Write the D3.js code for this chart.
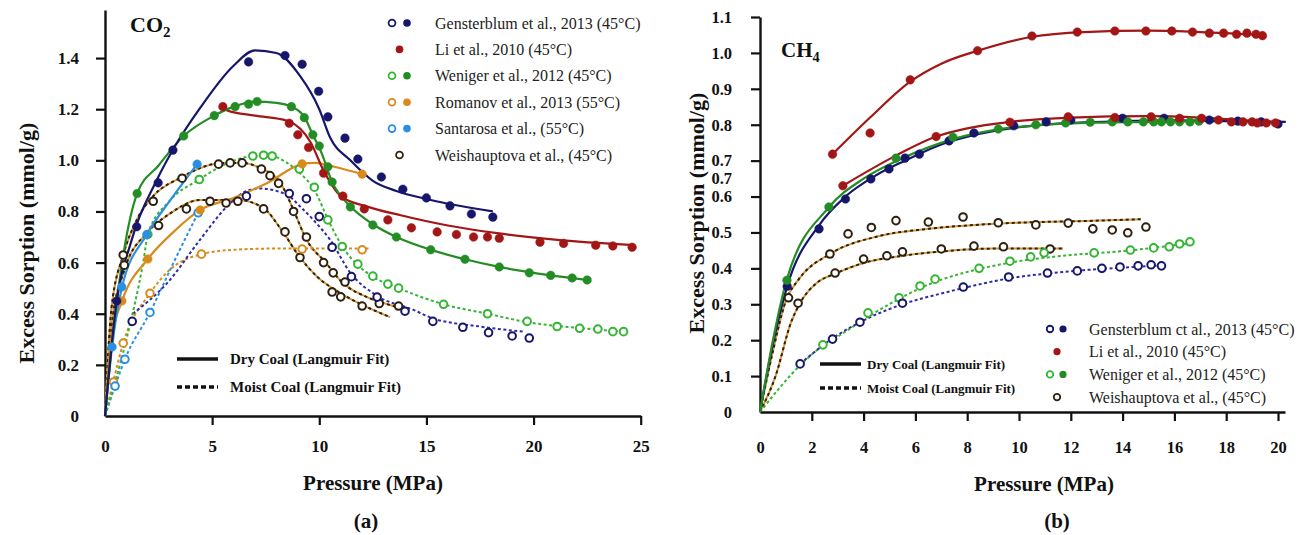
<!DOCTYPE html>
<html>
<head>
<meta charset="utf-8">
<script src="https://cdnjs.cloudflare.com/ajax/libs/d3/7.8.5/d3.min.js"></script>
<style>
  body { margin: 0; background: #fff; }
  svg text { font-family: "Liberation Serif", "Times New Roman", serif; }
</style>
</head>
<body>
<svg id="fig" width="1306" height="535"></svg>
<script>
///////////////////////////////////////////////////
// Data : panel (a) CO2   [pressure MPa, sorption mmol/g]
///////////////////////////////////////////////////

let co2XTicks = [0, 5, 10, 15, 20, 25];
let co2YTicks = [0, 0.2, 0.4, 0.6, 0.8, 1.0, 1.2, 1.4];

let co2GenDryPts = [[0.55,0.45],[1.48,0.74],[2.48,0.912],[3.17,1.04],[6.7,1.385],[8.4,1.41],[9.2,1.376],[9.97,1.27],[10.4,1.17],[11.2,1.087],[11.8,1.005],[12.9,0.935],[13.9,0.887],[15.0,0.853],[16.1,0.822],[17.1,0.79],[18.1,0.778]];
let co2GenDryFit = [[0,0],[0.5,0.42],[1.25,0.69],[2.4,0.92],[3.3,1.06],[4.4,1.2],[6,1.37],[7,1.43],[8,1.42],[9.1,1.33],[10,1.2],[10.5,1.09],[11.45,1.0],[12.5,0.92],[13.6,0.88],[15.2,0.845],[18.1,0.80]];
let co2GenMoistPts = [[1.27,0.37],[6.6,0.86],[8.6,0.87],[9.4,0.85],[10.0,0.78],[10.6,0.66],[11.5,0.545],[12.7,0.465],[14.0,0.41],[15.3,0.37],[16.7,0.347],[17.9,0.326],[19.0,0.313],[19.8,0.305]];
let co2GenMoistFit = [[1.3,0.4],[2.9,0.52],[4.44,0.69],[5.7,0.82],[6.6,0.88],[7.2,0.89],[8.5,0.865],[9.1,0.82],[9.8,0.76],[10.5,0.69],[11.45,0.56],[12.7,0.47],[14.4,0.415],[15.2,0.385],[17.5,0.35],[19.5,0.33]];

let co2LiDryPts = [[5.5,1.21],[8.6,1.145],[9.0,1.10],[9.5,1.05],[10.2,0.95],[11.1,0.86],[12.1,0.81],[13.2,0.767],[14.3,0.736],[15.5,0.72],[16.4,0.71],[17.2,0.70],[17.85,0.70],[18.4,0.695],[20.3,0.68],[21.4,0.675],[22.9,0.668],[23.7,0.665],[24.6,0.66]];
let co2LiDryFit = [[5.5,1.21],[5.7,1.195],[7,1.175],[8.5,1.155],[9.6,1.07],[10.2,0.96],[11,0.86],[12.2,0.82],[13.8,0.785],[16,0.745],[18.3,0.715],[21,0.69],[24.7,0.668]];

let co2WenDryPts = [[1.5,0.87],[3.67,1.095],[5.1,1.175],[6.07,1.21],[6.7,1.22],[7.1,1.23],[8.7,1.21],[9.3,1.167],[9.7,1.1],[10.0,1.056],[10.4,0.975],[10.6,0.915],[11.45,0.818],[12.5,0.747],[13.6,0.7],[15.2,0.65],[16.8,0.613],[18.4,0.583],[19.8,0.56],[20.8,0.55],[21.8,0.54],[22.5,0.532]];
let co2WenDryFit = [[0,0],[0.4,0.34],[1.5,0.87],[2.5,0.98],[3.67,1.095],[5.1,1.175],[6,1.21],[7,1.23],[8,1.225],[8.7,1.21],[9.3,1.17],[9.7,1.1],[10.1,1.03],[10.6,0.915],[11.45,0.82],[12.5,0.75],[13.6,0.7],[15.2,0.65],[16.8,0.613],[18.4,0.583],[20,0.56],[22.5,0.532]];
let co2WenMoistPts = [[2.0,0.71],[4.4,0.925],[6.9,1.017],[7.4,1.02],[7.8,1.017],[9.07,0.966],[9.77,0.895],[10.4,0.767],[11.07,0.663],[11.8,0.594],[12.5,0.547],[13.2,0.516],[13.7,0.5],[15.8,0.437],[17.85,0.40],[19.7,0.37],[21.1,0.35],[22.15,0.343],[23.0,0.34],[23.7,0.33],[24.2,0.33]];
let co2WenMoistFit = [[0,0],[1.0,0.3],[1.8,0.61],[2.0,0.71],[3,0.84],[4.4,0.925],[5.5,0.98],[6.9,1.015],[7.8,1.015],[8.5,0.99],[9.1,0.95],[9.8,0.88],[10.4,0.77],[11.1,0.66],[11.8,0.59],[12.5,0.545],[13.7,0.5],[15.8,0.437],[17.85,0.4],[19.7,0.367],[22,0.345],[24.2,0.33]];

let co2RomDryPts = [[0.79,0.45],[2.0,0.614],[4.44,0.806],[9.2,0.986],[12.0,0.946]];
let co2RomDryFit = [[0,0],[0.3,0.3],[0.8,0.45],[2.0,0.614],[3.2,0.72],[4.44,0.806],[6,0.853],[7.55,0.91],[9.2,0.985],[9.8,0.99],[10.7,0.975],[12,0.946]];
let co2RomMoistPts = [[0.4,0.133],[0.85,0.285],[2.1,0.48],[4.5,0.633],[9.2,0.653],[12.0,0.65]];
let co2RomMoistFit = [[0,0],[0.4,0.14],[0.85,0.285],[2.1,0.48],[3,0.57],[4.5,0.633],[6,0.65],[8,0.655],[10,0.655],[12.3,0.655]];

let co2SanDryPts = [[0.33,0.27],[0.78,0.505],[1.95,0.71],[4.3,0.985]];
let co2SanDryFit = [[0,0],[0.33,0.27],[0.78,0.5],[1.95,0.71],[3.1,0.85],[4.3,0.985]];
let co2SanMoistPts = [[0.47,0.117],[0.93,0.222],[2.1,0.405],[4.35,0.795]];
let co2SanMoistFit = [[0,0],[0.47,0.117],[0.93,0.222],[2.1,0.405],[3.2,0.6],[4.35,0.795]];

let co2Wei1Pts = [[0.85,0.63],[2.25,0.84],[3.6,0.93],[5.3,0.985],[5.84,0.99],[6.4,0.99],[7.3,0.966],[7.7,0.94],[8.1,0.91],[8.8,0.8],[9.4,0.7],[10.2,0.6],[10.65,0.56],[11.2,0.524],[12.8,0.44],[13.7,0.43]];
let co2Wei1Fit = [[0,0],[0.3,0.42],[0.85,0.63],[1.5,0.77],[2.25,0.86],[3.6,0.935],[4.44,0.97],[5.5,0.99],[6.4,0.99],[7.24,0.97],[8.2,0.91],[8.8,0.805],[9.4,0.69],[10.3,0.6],[11.1,0.52],[12.2,0.466],[13.3,0.434],[13.9,0.42]];
let co2Wei2Pts = [[0.9,0.59],[2.5,0.745],[3.8,0.81],[4.9,0.84],[5.65,0.833],[6.2,0.84],[7.4,0.81],[8.4,0.72],[9.1,0.62],[10.6,0.485],[11.0,0.466],[12.0,0.43]];
let co2Wei2Fit = [[0,0],[0.3,0.35],[0.9,0.57],[2,0.72],[3,0.79],[4.44,0.845],[6.2,0.845],[7.4,0.813],[8.3,0.72],[9.1,0.62],[9.9,0.545],[11,0.48],[12.2,0.427],[13.3,0.387]];

let co2Legend = [
  "Gensterblum et al., 2013 (45°C)",
  "Li et al., 2010 (45°C)",
  "Weniger et al., 2012 (45°C)",
  "Romanov et al., 2013 (55°C)",
  "Santarosa et al., (55°C)",
  "Weishauptova et al., (45°C)"
];

///////////////////////////////////////////////////
// Data : panel (b) CH4
///////////////////////////////////////////////////

let ch4XTicks = [0, 2, 4, 6, 8, 10, 12, 14, 16, 18, 20];
let ch4YTicks = [0, 0.1, 0.2, 0.3, 0.4, 0.5, 0.6, 0.7, 0.8, 0.9, 1.0, 1.1];
// stray extra "0.7" label printed between 0.6 and 0.7 in the original
let ch4ExtraYLabels = [[0.65, "0.7"]];

let ch4Li1Pts = [[2.8,0.718],[4.25,0.777],[5.8,0.925],[8.4,1.006],[10.5,1.047],[12.25,1.058],[13.7,1.061],[14.9,1.061],[15.9,1.061],[16.7,1.058],[17.35,1.055],[17.9,1.055],[18.4,1.052],[18.8,1.055],[19.15,1.052],[19.4,1.048]];
let ch4Li1Fit = [[2.8,0.718],[4.25,0.82],[5.8,0.92],[7,0.97],[8.4,1.006],[10.5,1.045],[12.5,1.058],[15,1.062],[17,1.058],[19.4,1.05]];
let ch4Li2Pts = [[3.2,0.63],[6.8,0.767],[9.65,0.807],[11.9,0.822],[13.7,0.82],[15.1,0.822],[16.2,0.818],[17.05,0.818],[17.7,0.813],[18.2,0.808],[18.65,0.808],[19.0,0.808],[19.2,0.805],[19.55,0.805],[19.9,0.805]];
let ch4Li2Fit = [[3.2,0.63],[5.3,0.716],[6.8,0.767],[8,0.79],[9.65,0.808],[12,0.82],[15,0.824],[17,0.82],[19.9,0.806]];

let ch4GenDryPts = [[1.05,0.35],[2.28,0.51],[3.3,0.593],[4.28,0.649],[4.98,0.677],[5.6,0.707],[6.15,0.718],[7.3,0.755],[8.26,0.777],[9.8,0.797],[11.05,0.808],[12.0,0.813],[14.0,0.818],[15.6,0.818],[17.35,0.813],[18.45,0.81],[19.35,0.808],[20.0,0.802]];
let ch4GenDryFit = [[0,0],[0.5,0.19],[1.05,0.35],[2.28,0.52],[3.3,0.6],[4.5,0.66],[5.6,0.7],[7,0.745],[8.5,0.775],[10,0.793],[12,0.805],[14,0.81],[16,0.812],[18,0.81],[20.3,0.808]];
let ch4GenMoistPts = [[1.55,0.134],[2.8,0.203],[3.86,0.25],[5.5,0.303],[7.85,0.348],[9.6,0.376],[11.1,0.387],[12.25,0.393],[13.2,0.4],[13.9,0.404],[14.6,0.407],[15.1,0.41],[15.5,0.407]];
let ch4GenMoistFit = [[1.55,0.134],[2.8,0.205],[3.86,0.25],[5.5,0.3],[7,0.33],[7.85,0.345],[9.6,0.372],[11,0.385],[12.5,0.395],[14,0.402],[15.5,0.408]];

let ch4WenDryPts = [[1.04,0.367],[2.66,0.571],[5.25,0.707],[7.45,0.765],[9.2,0.788],[10.65,0.8],[11.8,0.805],[12.75,0.807],[13.6,0.808],[14.2,0.808],[14.8,0.808],[15.2,0.808],[15.5,0.808],[15.85,0.808],[16.2,0.808],[16.6,0.808],[16.95,0.81]];
let ch4WenDryFit = [[0,0],[0.5,0.2],[1.04,0.37],[2.66,0.57],[4,0.65],[5.3,0.7],[7.45,0.76],[9.2,0.787],[11,0.8],[13,0.806],[15,0.808],[17,0.81]];
let ch4WenMoistPts = [[2.43,0.187],[4.17,0.276],[5.37,0.318],[6.18,0.351],[6.76,0.37],[8.46,0.4],[9.65,0.42],[10.45,0.432],[10.97,0.443],[12.9,0.443],[14.3,0.451],[15.2,0.457],[15.8,0.46],[16.2,0.468],[16.6,0.474]];
let ch4WenMoistFit = [[0,0],[1.55,0.13],[2.43,0.185],[3,0.21],[4.17,0.265],[5.37,0.315],[6.5,0.355],[8,0.39],[10,0.42],[12,0.437],[14,0.448],[16.6,0.47]];

let ch4Wei1Pts = [[1.1,0.318],[2.7,0.44],[3.4,0.496],[4.3,0.514],[5.25,0.533],[6.5,0.529],[7.84,0.543],[9.2,0.527],[10.65,0.521],[11.9,0.526],[12.85,0.51],[13.6,0.507],[14.2,0.499],[14.9,0.515]];
let ch4Wei1Fit = [[0,0],[0.5,0.17],[1,0.31],[1.5,0.37],[2.7,0.44],[4.6,0.49],[6.5,0.51],[9.3,0.525],[13.1,0.533],[14.7,0.537]];
let ch4Wei2Pts = [[1.47,0.303],[2.9,0.387],[4.0,0.426],[4.9,0.435],[5.5,0.446],[7.0,0.454],[8.26,0.462],[9.4,0.46],[11.2,0.454]];
let ch4Wei2Fit = [[0,0],[0.6,0.1],[1.2,0.25],[1.6,0.31],[2.2,0.36],[2.9,0.385],[4,0.415],[5.5,0.435],[7,0.447],[9,0.455],[11.7,0.455]];

let ch4Legend = [
  "Gensterblum ct al., 2013 (45°C)",
  "Li et al., 2010 (45°C)",
  "Weniger et al., 2012 (45°C)",
  "Weishauptova et al., (45°C)"
];

///////////////////////////////////////////////////
// Colours
///////////////////////////////////////////////////

let NAVY = "#16166b", NAVY_D = "#2f2ba3",
    RED = "#a31616",
    GREEN = "#248c24", GREEN_O = "#35b535",
    ORANGE = "#d88a1c",
    BLUE = "#2b8fe0",
    BROWN = "#2e2010", BROWN_L = "#d49a3c";

///////////////////////////////////////////////////
// Series tables
///////////////////////////////////////////////////

let co2Series = [
  {fit: co2Wei2Fit, pts: co2Wei2Pts, color: BROWN, open: true, wei: true},
  {fit: co2Wei1Fit, pts: co2Wei1Pts, color: BROWN, open: true, wei: true},
  {fit: co2RomMoistFit, pts: co2RomMoistPts, color: ORANGE, open: true, dash: true},
  {fit: co2SanMoistFit, pts: co2SanMoistPts, color: BLUE, open: true, dash: true},
  {fit: co2GenMoistFit, pts: co2GenMoistPts, color: NAVY, line: NAVY_D, open: true, dash: true},
  {fit: co2WenMoistFit, pts: co2WenMoistPts, color: GREEN_O, open: true, dash: true},
  {fit: co2RomDryFit, pts: co2RomDryPts, color: ORANGE},
  {fit: co2SanDryFit, pts: co2SanDryPts, color: BLUE},
  {fit: co2LiDryFit, pts: co2LiDryPts, color: RED},
  {fit: co2WenDryFit, pts: co2WenDryPts, color: GREEN},
  {fit: co2GenDryFit, pts: co2GenDryPts, color: NAVY}
];

let ch4Series = [
  {fit: ch4Wei2Fit, pts: ch4Wei2Pts, color: BROWN, open: true, wei: true},
  {fit: ch4Wei1Fit, pts: ch4Wei1Pts, color: BROWN, open: true, wei: true},
  {fit: ch4WenMoistFit, pts: ch4WenMoistPts, color: GREEN_O, open: true, dash: true},
  {fit: ch4GenMoistFit, pts: ch4GenMoistPts, color: NAVY, line: NAVY_D, open: true, dash: true},
  {fit: ch4GenDryFit, pts: ch4GenDryPts, color: NAVY},
  {fit: ch4WenDryFit, pts: ch4WenDryPts, color: GREEN},
  {fit: ch4Li2Fit, pts: ch4Li2Pts, color: RED},
  {fit: ch4Li1Fit, pts: ch4Li1Pts, color: RED}
];

// legend markers per row : [open colour, filled colour]
let co2LegendMarks = [[NAVY, NAVY], [null, RED], [GREEN_O, GREEN], [ORANGE, ORANGE], [BLUE, BLUE], [BROWN, null]];
let ch4LegendMarks = [[NAVY, NAVY], [null, RED], [GREEN_O, GREEN], [BROWN, null]];

let svg = d3.select("#fig");

///////////////////////////////////////////////////
// Panels
///////////////////////////////////////////////////

drawPanel({
  xDomain: [0, 25], xRange: [105, 640.7],
  yDomain: [0, 1.588], yRange: [416, 10],
  xTicks: co2XTicks, yTicks: co2YTicks,
  yFmt: function(d) { return d === 0 ? "0" : d3.format(".1f")(d); },
  xPad: 15, yPad: 17, tickFont: 17,
  series: co2Series,
  gas: ["CO", "2"], gasX: 130, gasY: 32, gasSize: 22,
  xTitle: [373, 490], yTitle: [26, 243], tag: ["(a)", 366, 528],
  legend: co2Legend, legendMarks: co2LegendMarks,
  lg: {open: 392, fill: 407, single: 399.5, text: 435, y0: 23, dy: 26.4, size: 16, r: 3.8},
  fitKey: {x1: 177, x2: 218, text: 230, y1: 359, y2: 387, size: 15}
});

drawPanel({
  xDomain: [0, 20.27], xRange: [760, 1285],
  yDomain: [0, 1.1], yRange: [412, 17],
  xTicks: ch4XTicks, yTicks: ch4YTicks, extraY: ch4ExtraYLabels,
  yFmt: function(d) { return d === 0 ? "0" : d3.format(".1f")(d); },
  xPad: 20, yPad: 19, tickFont: 16.5,
  series: ch4Series,
  gas: ["CH", "4"], gasX: 781, gasY: 57, gasSize: 21,
  xTitle: [1044, 491], yTitle: [696, 213], tag: ["(b)", 1057, 528],
  legend: ch4Legend, legendMarks: ch4LegendMarks,
  lg: {open: 1050, fill: 1063, single: 1057, text: 1089, y0: 329, dy: 22.7, size: 16, r: 3.6},
  fitKey: {x1: 820, x2: 861, text: 867, y1: 364, y2: 388, size: 13}
});

function drawPanel(cfg) {
  let x = d3.scaleLinear().domain(cfg.xDomain).range(cfg.xRange);
  let y = d3.scaleLinear().domain(cfg.yDomain).range(cfg.yRange);
  let g = svg.append("g");

  /////////////////////////////////////////////////////////
  // axes
  /////////////////////////////////////////////////////////
  let xAx = g.append("g")
    .attr("transform", "translate(0," + y(0) + ")")
    .call(d3.axisBottom(x).tickValues(cfg.xTicks).tickSize(9).tickSizeOuter(0).tickPadding(cfg.xPad));
  xAx.selectAll(".tick").filter(function(d) { return d === 0; }).select("line").remove();

  let yAx = g.append("g")
    .attr("transform", "translate(" + x(0) + ",0)")
    .call(d3.axisLeft(y).tickValues(cfg.yTicks).tickFormat(cfg.yFmt).tickSize(9).tickSizeOuter(0).tickPadding(cfg.yPad));
  yAx.selectAll(".tick").filter(function(d) { return d === 0; }).select("line").remove();

  [xAx, yAx].forEach(function(a) {
    a.select(".domain").attr("stroke", "#111").attr("stroke-width", 2.4);
    a.selectAll(".tick line").attr("stroke", "#111").attr("stroke-width", 2.2);
    a.selectAll(".tick text")
      .attr("fill", "#111")
      .attr("font-family", "Liberation Serif, Times New Roman, serif")
      .attr("font-weight", "bold")
      .attr("font-size", cfg.tickFont);
  });

  if (cfg.extraY) {
    g.selectAll(null).data(cfg.extraY).enter().append("text")
      .attr("x", x(0) - 9 - cfg.yPad)
      .attr("y", function(d) { return y(d[0]); })
      .attr("dy", "0.32em")
      .attr("text-anchor", "end")
      .attr("font-weight", "bold")
      .attr("font-size", cfg.tickFont)
      .attr("fill", "#111")
      .text(function(d) { return d[1]; });
  }

  /////////////////////////////////////////////////////////
  // fit lines
  /////////////////////////////////////////////////////////
  let line = d3.line()
    .x(function(d) { return x(d[0]); })
    .y(function(d) { return y(d[1]); })
    .curve(d3.curveMonotoneX);

  cfg.series.forEach(function(s) {
    if (s.wei) {
      g.append("path").attr("d", line(s.fit))
        .attr("fill", "none").attr("stroke", BROWN_L).attr("stroke-width", 2);
      g.append("path").attr("d", line(s.fit))
        .attr("fill", "none").attr("stroke", BROWN).attr("stroke-width", 2)
        .attr("stroke-dasharray", "3,3");
    } else {
      g.append("path").attr("d", line(s.fit))
        .attr("fill", "none")
        .attr("stroke", s.line || s.color)
        .attr("stroke-width", s.dash ? 2 : 2.2)
        .attr("stroke-dasharray", s.dash ? "3,2.5" : null);
    }
  });

  /////////////////////////////////////////////////////////
  // data points
  /////////////////////////////////////////////////////////
  cfg.series.forEach(function(s) {
    g.append("g").selectAll("circle")
      .data(s.pts)
      .enter().append("circle")
      .attr("cx", function(d) { return x(d[0]); })
      .attr("cy", function(d) { return y(d[1]); })
      .attr("r", s.open ? 3.8 : 4.3)
      .attr("fill", s.open ? "#fff" : s.color)
      .attr("stroke", s.color)
      .attr("stroke-width", s.open ? 2 : 0.5);
  });

  /////////////////////////////////////////////////////////
  // labels
  /////////////////////////////////////////////////////////
  let gas = g.append("text")
    .attr("x", cfg.gasX).attr("y", cfg.gasY)
    .attr("font-weight", "bold").attr("font-size", cfg.gasSize).attr("fill", "#111");
  gas.append("tspan").text(cfg.gas[0]);
  gas.append("tspan").attr("dy", 5).attr("font-size", cfg.gasSize * 0.68).text(cfg.gas[1]);

  g.append("text")
    .attr("x", cfg.xTitle[0]).attr("y", cfg.xTitle[1])
    .attr("text-anchor", "middle")
    .attr("font-weight", "bold").attr("font-size", 21).attr("fill", "#111")
    .text("Pressure (MPa)");

  g.append("text")
    .attr("transform", "translate(" + cfg.yTitle[0] + "," + cfg.yTitle[1] + ") rotate(-90)")
    .attr("text-anchor", "middle")
    .attr("dy", "0.35em")
    .attr("font-weight", "bold").attr("font-size", 22).attr("fill", "#111")
    .text("Excess Sorption (mmol/g)");

  g.append("text")
    .attr("x", cfg.tag[1]).attr("y", cfg.tag[2])
    .attr("text-anchor", "middle")
    .attr("font-weight", "bold").attr("font-size", 21).attr("fill", "#111")
    .text(cfg.tag[0]);

  /////////////////////////////////////////////////////////
  // legend (studies)
  /////////////////////////////////////////////////////////
  let lg = cfg.lg;
  cfg.legend.forEach(function(label, i) {
    let yy = lg.y0 + i * lg.dy;
    let m = cfg.legendMarks[i];
    let both = m[0] && m[1];
    if (m[0]) {
      g.append("circle")
        .attr("cx", both ? lg.open : lg.single).attr("cy", yy).attr("r", lg.r * 0.9)
        .attr("fill", "#fff").attr("stroke", m[0]).attr("stroke-width", 1.8);
    }
    if (m[1]) {
      g.append("circle")
        .attr("cx", both ? lg.fill : lg.single).attr("cy", yy).attr("r", lg.r)
        .attr("fill", m[1]);
    }
    g.append("text")
      .attr("x", lg.text).attr("y", yy)
      .attr("dy", "0.35em")
      .attr("font-size", lg.size).attr("fill", "#222")
      .text(label);
  });

  /////////////////////////////////////////////////////////
  // legend (fit style)
  /////////////////////////////////////////////////////////
  let fk = cfg.fitKey;
  g.append("line")
    .attr("x1", fk.x1).attr("x2", fk.x2).attr("y1", fk.y1).attr("y2", fk.y1)
    .attr("stroke", "#111").attr("stroke-width", 3.5);
  g.append("line")
    .attr("x1", fk.x1).attr("x2", fk.x2).attr("y1", fk.y2).attr("y2", fk.y2)
    .attr("stroke", "#111").attr("stroke-width", 3.5).attr("stroke-dasharray", "5,3");
  g.append("text")
    .attr("x", fk.text).attr("y", fk.y1).attr("dy", "0.35em")
    .attr("font-weight", "bold").attr("font-size", fk.size).attr("fill", "#111")
    .text("Dry Coal (Langmuir Fit)");
  g.append("text")
    .attr("x", fk.text).attr("y", fk.y2).attr("dy", "0.35em")
    .attr("font-weight", "bold").attr("font-size", fk.size).attr("fill", "#111")
    .text("Moist Coal (Langmuir Fit)");
}
</script>
</body>
</html>
